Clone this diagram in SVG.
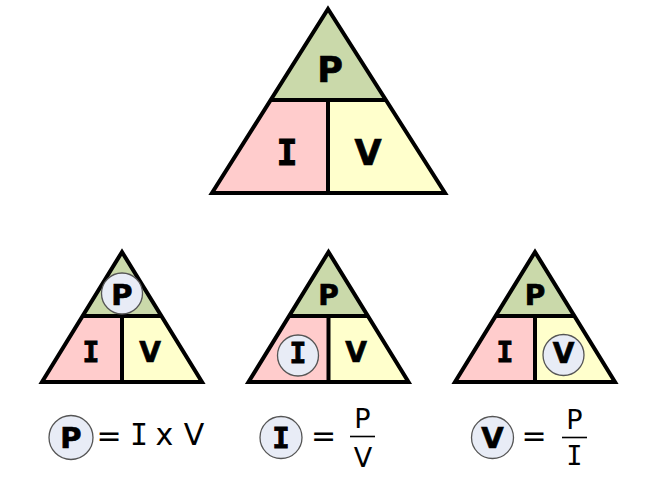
<svg xmlns="http://www.w3.org/2000/svg" width="660" height="484" viewBox="0 0 660 484">
<style>
.g{fill:#cad9aa}.r{fill:#ffcccc}.y{fill:#ffffcc}
.o{fill:none;stroke:#000;stroke-width:4;stroke-linejoin:miter}
.c{fill:#e8ecf6;stroke:#555;stroke-width:1.3}
.b{font-family:"DejaVu Sans",sans-serif;font-weight:bold;text-anchor:middle;fill:#000;stroke:#000;stroke-width:0.7}
.bi{font-family:"DejaVu Sans Mono",monospace;font-weight:bold;text-anchor:middle;fill:#000;stroke:#000;stroke-width:0.9}
.n{font-family:"DejaVu Sans",sans-serif;text-anchor:middle;fill:#000}
.ni{font-family:"DejaVu Sans Mono",monospace;text-anchor:middle;fill:#000}
</style>
<g id="big">
<polygon class="g" points="328,9 270,100 386,100"/>
<polygon class="r" points="270,100 328,100 328,193 212,193"/>
<polygon class="y" points="328,100 386,100 445,193 328,193"/>
<polygon class="o" points="328,9 445,193 212,193"/>
<line class="o" x1="270" y1="100" x2="386" y2="100"/>
<line class="o" x1="328" y1="100" x2="328" y2="193"/>
<text class="b" x="330" y="82" font-size="35">P</text>
<text class="bi" x="287" y="165" font-size="35">I</text>
<text class="b" x="368" y="165" font-size="35">V</text>
</g>
<g id="tri1">
<polygon class="g" points="122,252 83,316 161,316"/>
<polygon class="r" points="83,316 122,316 122,382 42,382"/>
<polygon class="y" points="122,316 161,316 202,382 122,382"/>
<polygon class="o" points="122,252 202,382 42,382"/>
<line class="o" x1="83" y1="316" x2="161" y2="316"/>
<line class="o" x1="122" y1="316" x2="122" y2="382"/>
<circle class="c" cx="122" cy="293.5" r="20.5"/>
<text class="b" x="122" y="305" font-size="29">P</text>
<text class="bi" x="91" y="362" font-size="28">I</text>
<text class="b" x="150" y="362" font-size="28">V</text>
</g>
<g id="tri2">
<polygon class="g" points="328.5,252 289.5,316 367.5,316"/>
<polygon class="r" points="289.5,316 328.5,316 328.5,382 248.5,382"/>
<polygon class="y" points="328.5,316 367.5,316 408.5,382 328.5,382"/>
<polygon class="o" points="328.5,252 408.5,382 248.5,382"/>
<line class="o" x1="289.5" y1="316" x2="367.5" y2="316"/>
<line class="o" x1="328.5" y1="316" x2="328.5" y2="382"/>
<text class="b" x="328.5" y="305" font-size="28">P</text>
<circle class="c" cx="298" cy="355.5" r="20.5"/>
<text class="bi" x="298" y="363" font-size="28">I</text>
<text class="b" x="356" y="362" font-size="28">V</text>
</g>
<g id="tri3">
<polygon class="g" points="535,252 496,316 574,316"/>
<polygon class="r" points="496,316 535,316 535,382 455,382"/>
<polygon class="y" points="535,316 574,316 615,382 535,382"/>
<polygon class="o" points="535,252 615,382 455,382"/>
<line class="o" x1="496" y1="316" x2="574" y2="316"/>
<line class="o" x1="535" y1="316" x2="535" y2="382"/>
<text class="b" x="535" y="305" font-size="28">P</text>
<text class="bi" x="505" y="362" font-size="28">I</text>
<circle class="c" cx="563.5" cy="355" r="20.5"/>
<text class="b" x="563.5" y="363" font-size="28">V</text>
</g>
<g id="eq1">
<circle class="c" cx="71" cy="437.5" r="22"/>
<text class="b" x="71" y="448" font-size="29">P</text>
<text class="n" x="109" y="446" font-size="30">=</text>
<text class="ni" x="139" y="445" font-size="30">I</text>
<text class="n" x="164.5" y="445" font-size="30">x</text>
<text class="n" x="194" y="445" font-size="30">V</text>
</g>
<g id="eq2">
<circle class="c" cx="281" cy="437.5" r="21"/>
<text class="bi" x="281" y="448" font-size="29">I</text>
<text class="n" x="323.5" y="446" font-size="30">=</text>
<text class="n" x="362.5" y="428" font-size="27">P</text>
<line x1="350" y1="436.5" x2="375" y2="436.5" stroke="#000" stroke-width="1.6"/>
<text class="n" x="363" y="467" font-size="27">V</text>
</g>
<g id="eq3">
<circle class="c" cx="492.5" cy="437.5" r="21"/>
<text class="b" x="492.5" y="448" font-size="29">V</text>
<text class="n" x="534" y="446" font-size="30">=</text>
<text class="n" x="574.5" y="429" font-size="27">P</text>
<line x1="562" y1="437.5" x2="587" y2="437.5" stroke="#000" stroke-width="1.6"/>
<text class="ni" x="574.5" y="465" font-size="27">I</text>
</g>
</svg>
